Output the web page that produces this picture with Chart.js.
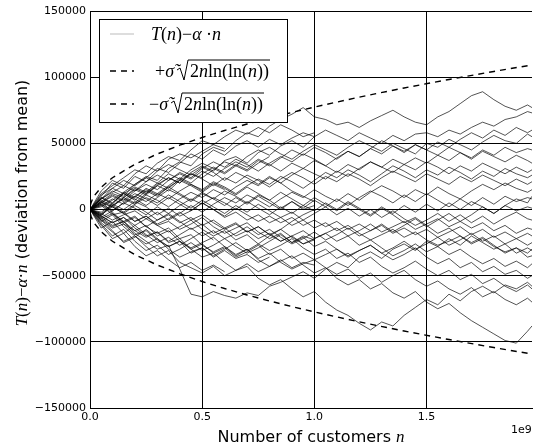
<!DOCTYPE html>
<html>
<head>
<meta charset="utf-8">
<script src="https://cdn.jsdelivr.net/npm/chart.js@4"></script>
<style>
  html, body { margin: 0; padding: 0; background: #fff; }
  #wrap { width: 533px; height: 448px; }
</style>
</head>
<body>
<div id="wrap"><canvas id="chart" width="533" height="448"></canvas></div>
<script>
// n in units of 1e9 (axis offset "1e9")
const xs = [0, 0.05, 0.1, 0.15, 0.2, 0.25, 0.3, 0.35, 0.4, 0.45, 0.5, 0.55, 0.6, 0.65, 0.7, 0.75, 0.8, 0.85, 0.9, 0.95,
  1.0, 1.05, 1.1, 1.15, 1.2, 1.25, 1.3, 1.35, 1.4, 1.45, 1.5, 1.55, 1.6, 1.65, 1.7, 1.75, 1.8, 1.85, 1.9, 1.95, 1.97];

// deviation values in thousands
const walks = [
  [0, 8, 14, 10, 19, 25, 22, 31, 36, 33, 42, 47, 44, 52, 58, 55, 63, 68, 72, 77, 70, 68, 64, 66, 62, 67, 71, 75, 70, 66, 64, 70, 74, 80, 86, 89, 83, 78, 75, 79, 77],
  [0, -4, 3, 9, 5, 12, 18, 14, 22, 27, 24, 30, 36, 33, 40, 45, 41, 48, 52, 47, 55, 60, 56, 52, 58, 54, 50, 56, 52, 57, 58, 55, 60, 57, 62, 66, 63, 68, 70, 74, 73],
  [0, 5, 2, 9, 15, 11, 18, 24, 20, 28, 33, 29, 37, 40, 35, 43, 47, 42, 38, 44, 49, 45, 41, 47, 52, 48, 44, 50, 46, 42, 50, 47, 53, 49, 45, 51, 56, 52, 50, 57, 55],
  [0, -6, -12, -9, -18, -24, -30, -27, -45, -64, -66, -62, -65, -67, -63, -65, -58, -55, -51, -47, -52, -45, -40, -44, -36, -32, -37, -30, -26, -31, -24, -28, -22, -27, -20, -25, -30, -26, -33, -29, -31],
  [0, -5, -10, -6, -14, -20, -17, -25, -22, -30, -36, -33, -40, -46, -43, -52, -57, -53, -60, -66, -62, -70, -76, -80, -86, -91, -85, -88, -80, -74, -68, -72, -64, -69, -62, -58, -63, -57, -60, -55, -58],
  [0, 4, -3, -9, -5, -13, -18, -14, -22, -19, -27, -32, -28, -35, -30, -38, -43, -39, -35, -42, -48, -44, -52, -57, -53, -60, -56, -63, -67, -62, -70, -75, -71, -78, -84, -89, -94, -99, -101, -92, -88],
  [0, -7, -3, -11, -16, -12, -20, -16, -24, -29, -25, -21, -28, -34, -30, -37, -33, -40, -45, -41, -38, -44, -49, -45, -52, -48, -55, -50, -46, -53, -58, -54, -60, -64, -59, -66, -62, -68, -72, -67, -70],
  [0, 3, -4, -2, -9, -5, -12, -17, -13, -8, -15, -20, -16, -23, -19, -26, -31, -27, -22, -29, -34, -30, -37, -33, -40, -36, -43, -48, -44, -39, -45, -50, -46, -53, -49, -56, -52, -58, -62, -57, -60],
  [0, -3, -8, -4, -1, -7, -12, -9, -15, -11, -6, -13, -18, -14, -10, -17, -22, -18, -25, -21, -28, -24, -30, -35, -31, -27, -33, -38, -34, -29, -36, -41, -37, -44, -40, -47, -43, -49, -46, -52, -50],
  [0, 6, 2, -3, 3, -2, -8, -4, -10, -6, -12, -8, -14, -10, -17, -13, -19, -15, -21, -26, -22, -18, -24, -20, -27, -23, -29, -35, -31, -26, -32, -28, -34, -30, -36, -41, -37, -43, -39, -44, -41],
  [0, -2, 4, 0, 6, 2, -4, 1, -5, -1, 5, 0, -6, -2, -8, -4, -10, -6, -12, -8, -14, -10, -16, -12, -18, -23, -19, -15, -21, -17, -23, -27, -24, -20, -26, -22, -28, -32, -29, -33, -30],
  [0, -8, -14, -11, -19, -16, -23, -28, -24, -30, -26, -33, -29, -36, -32, -27, -34, -30, -37, -33, -38, -34, -30, -36, -31, -27, -33, -29, -24, -30, -26, -21, -27, -23, -18, -24, -20, -26, -22, -27, -25],
  [0, 5, 10, 6, 12, 8, 3, 9, 4, -1, 5, 0, -5, 1, -4, -9, -5, -10, -6, -12, -8, -13, -9, -15, -11, -16, -12, -18, -14, -19, -15, -21, -17, -13, -19, -15, -21, -17, -22, -18, -20],
  [0, -4, 2, -3, -9, -5, -11, -7, -2, -8, -4, -10, -15, -11, -17, -13, -19, -24, -20, -16, -22, -18, -14, -20, -16, -11, -17, -13, -9, -15, -11, -7, -13, -9, -14, -10, -16, -12, -18, -14, -15],
  [0, 7, 3, -2, 4, 9, 5, 11, 6, 1, 7, 2, -3, 3, -2, 4, -1, -6, -2, -8, -3, 2, -4, 1, -5, 0, -6, -1, -7, -12, -8, -3, -9, -4, -10, -5, -11, -6, -2, -7, -8],
  [0, -6, -1, 5, 1, -4, 2, -3, 3, 8, 4, 9, 5, 0, 6, 1, -4, 2, -3, 3, -1, 5, 0, 6, 1, -4, 2, -3, 3, -2, 4, -1, 5, 0, 6, 2, -3, 3, -1, 2, 1],
  [0, 3, 8, 4, 10, 15, 11, 17, 12, 7, 13, 8, 3, 9, 4, 10, 5, 0, 6, 1, 7, 2, 8, 3, 9, 14, 10, 5, 11, 6, 12, 7, 2, 8, 3, 9, 4, 10, 6, 9, 8],
  [0, -5, -10, -6, -12, -7, -2, -8, -3, 3, -2, 4, 9, 5, 11, 7, 2, 8, 13, 9, 15, 10, 6, 12, 7, 13, 18, 14, 9, 15, 11, 17, 12, 8, 14, 19, 15, 20, 16, 13, 15],
  [0, 6, 12, 9, 16, 12, 19, 24, 20, 27, 23, 18, 24, 20, 26, 22, 17, 23, 28, 24, 19, 25, 21, 27, 23, 18, 24, 29, 25, 21, 27, 23, 19, 25, 21, 26, 22, 18, 23, 19, 21],
  [0, 4, -1, 5, 10, 6, 12, 8, 14, 19, 15, 21, 17, 12, 18, 23, 19, 25, 21, 16, 22, 28, 24, 30, 26, 21, 27, 33, 29, 24, 30, 26, 32, 28, 23, 29, 25, 31, 27, 24, 26],
  [0, -3, 3, 8, 4, 11, 7, 2, 8, 13, 9, 15, 11, 17, 22, 18, 24, 20, 26, 31, 27, 23, 29, 25, 31, 36, 32, 28, 34, 30, 36, 32, 27, 33, 29, 35, 31, 27, 32, 28, 30],
  [0, 8, 13, 18, 14, 21, 26, 22, 28, 24, 31, 36, 32, 38, 34, 29, 35, 40, 36, 42, 38, 33, 39, 44, 40, 46, 42, 48, 44, 49, 45, 41, 47, 43, 38, 44, 40, 36, 41, 37, 35],
  [0, 5, 11, 7, 14, 19, 15, 22, 27, 23, 29, 25, 31, 36, 32, 38, 34, 29, 35, 31, 37, 33, 28, 34, 30, 36, 32, 38, 34, 39, 35, 41, 37, 43, 39, 45, 41, 47, 43, 46, 45],
  [0, -7, -13, -9, -16, -21, -17, -24, -19, -14, -20, -16, -22, -18, -13, -19, -15, -21, -26, -22, -17, -23, -19, -14, -20, -16, -11, -17, -12, -7, -13, -8, -3, -9, -4, 2, -3, 3, 8, 5, 10],
  [0, 9, 5, 12, 17, 13, 20, 16, 23, 19, 14, 20, 16, 11, 17, 12, 7, 13, 8, 3, 9, 4, -1, 5, 0, -5, 1, -4, -10, -6, -12, -18, -14, -20, -25, -21, -27, -33, -29, -36, -35],
  [0, 2, 7, 13, 9, 16, 12, 18, 24, 20, 27, 32, 28, 34, 30, 37, 33, 39, 45, 41, 47, 43, 38, 44, 40, 46, 52, 48, 43, 49, 45, 51, 47, 53, 58, 54, 60, 56, 62, 58, 60]
];

// walks that stop before the right edge
const shortWalks = [
  [0, 12, 18, 24, 30, 27, 35, 40, 37, 45, 52, 49, 55, 60, 57, 62, 58, 64, 60, 55, 58],
  [0, -10, -17, -24, -20, -28, -35, -31, -40, -44, -48, -43, -50, -46, -41, -47, -43, -38, -44, -40, -42],
  [0, 10, 20, 16, 25, 21, 29, 34, 30, 26, 32, 28, 22, 28, 24, 19, 25, 20, 14, 10, 6],
  [0, -11, -20, -15, -24, -31, -27, -34, -30, -25, -31, -27, -22, -28, -33, -29, -24, -19, -25, -20, -23],
  [0, 8, 16, 22, 18, 24, 31, 28, 35, 42, 38, 45, 41, 48, 52, 47, 53, 49, 54, 58, 55],
  [0, -9, -4, -13, -20, -26, -22, -30, -36, -32, -29, -35, -30, -25, -31, -26, -20, -15, -9, -4, 0],
  [0, -12, -22, -18, -28, -35, -31, -38, -44, -40, -46, -42, -47],
  [0, 14, 22, 18, 27, 33, 29, 38, 42, 39, 44, 49, 46],
  [0, -8, -16, -25, -21, -15, -22, -28, -24, -33, -29, -36, -31, -37, -34, -40, -36],
  [0, 9, 4, 13, 19, 24, 20, 27, 23, 30, 35, 31, 27, 33, 29, 35, 40],
  [0, -14, -9, -18, -12, -19, -25, -21, -27, -22, -17, -23],
  [0, 11, 16, 12, 7, 14, 10, 17, 22, 18, 13, 19, 15],
  [0, 6, -2, -10, -6, -13, -8, -3, -9, -15, -11, -18, -14, -20, -16, -22, -18, -24, -20, -26, -23],
  [0, -5, 5, 12, 8, 3, 9, 15, 11, 6, 12, 8, 14, 10, 5, 11, 7, 1, 6, 0, 3]
];

// envelope +/- sigma*sqrt(2 n ln ln n), read at these n (1e9)
const envN = [0.002, 0.005, 0.01, 0.02, 0.05, 0.1, 0.2, 0.3, 0.4, 0.5, 0.6, 0.7, 0.8, 0.9, 1.0, 1.2, 1.4, 1.6, 1.8, 1.97];
const envUpper = [3300, 5200, 7400, 10560, 16860, 24000, 34150, 41980, 48590, 54430, 59710, 64580, 69110, 73380, 77410, 84920, 91830, 98280, 104330, 109230];
const envLower = [-3300, -5200, -7400, -10560, -16860, -24000, -34150, -41980, -48590, -54430, -59710, -64580, -69110, -73380, -77410, -84920, -91830, -98280, -104330, -109230];

const yTicks = [-150000, -100000, -50000, 0, 50000, 100000, 150000];

const mathFont = '"Liberation Serif"';
const sansFont = '"DejaVu Sans"';

const datasets = [];
datasets.push({ data: envN.map((n, i) => ({ x: n, y: envUpper[i] })), borderColor: "#000", borderWidth: 1.4, borderDash: [6, 5], order: 0 });
datasets.push({ data: envN.map((n, i) => ({ x: n, y: envLower[i] })), borderColor: "#000", borderWidth: 1.4, borderDash: [6, 5], order: 0 });
walks.concat(shortWalks).forEach(w => {
  datasets.push({
    data: w.map((v, i) => ({ x: xs[i], y: v * 1000 })),
    borderColor: "rgba(0,0,0,0.85)",
    borderWidth: 0.8,
    order: 1
  });
});

function runs(ctx, parts, x, y) {
  for (const [t, font] of parts) {
    ctx.font = font;
    ctx.fillText(t, x, y);
    x += ctx.measureText(t).width;
  }
  return x;
}
function width(ctx, parts) {
  let w = 0;
  for (const [t, font] of parts) { ctx.font = font; w += ctx.measureText(t).width; }
  return w;
}

const decor = {
  id: "decor",
  afterDraw(chart) {
    const ctx = chart.ctx;
    ctx.save();
    ctx.fillStyle = "#000";
    ctx.textBaseline = "alphabetic";
    ctx.textAlign = "left";

    // x axis title
    const it16 = `italic 17px ${mathFont}`, sans16 = `16px ${sansFont}`, up16 = `17px ${mathFont}`;
    const xt = [["Number of customers ", sans16], ["n", it16]];
    runs(ctx, xt, 311 - width(ctx, xt) / 2, 442);

    // offset text
    ctx.font = `11px ${sansFont}`;
    ctx.fillText("1e9", 511, 433);

    // y axis title
    const yt = [["T", it16], ["(", up16], ["n", it16], [")\u2212", up16], ["\u03b1", it16], ["\u00b7", up16], ["n", it16], [" (deviation from mean)", sans16]];
    ctx.save();
    ctx.translate(27, 203);
    ctx.rotate(-Math.PI / 2);
    runs(ctx, yt, -width(ctx, yt) / 2, 0);
    ctx.restore();

    // legend
    const L = 99, T = 19, R = 287, B = 122;
    ctx.fillStyle = "#fff";
    ctx.fillRect(L, T, R - L, B - T);
    ctx.strokeStyle = "#000";
    ctx.lineWidth = 1;
    ctx.strokeRect(L + 0.5, T + 0.5, R - L, B - T);
    ctx.fillStyle = "#000";

    const rowsY = [34, 71, 104];
    ctx.strokeStyle = "#aaa";
    ctx.lineWidth = 0.8;
    ctx.beginPath(); ctx.moveTo(110, rowsY[0]); ctx.lineTo(134, rowsY[0]); ctx.stroke();
    ctx.strokeStyle = "#000";
    ctx.lineWidth = 1.4;
    ctx.setLineDash([6, 5]);
    [rowsY[1], rowsY[2]].forEach(y => { ctx.beginPath(); ctx.moveTo(110, y); ctx.lineTo(134, y); ctx.stroke(); });
    ctx.setLineDash([]);

    const it = `italic 18px ${mathFont}`, up = `18px ${mathFont}`;
    runs(ctx, [["T", it], ["(", up], ["n", it], [")\u2212", up], ["\u03b1", it], [" \u00b7", up], ["n", it]], 151, rowsY[0] + 6);

    function envText(sign, x0, y) {
      let x = runs(ctx, [[sign, up], ["\u03c3\u0303", it]], x0, y);
      const rx = x + 3;
      ctx.lineWidth = 1;
      ctx.strokeStyle = "#000";
      const start = rx + 13;
      const body = [["2", up], ["n", it], ["ln(ln(", up], ["n", it], ["))", up]];
      const end = start + width(ctx, body);
      ctx.beginPath();
      ctx.moveTo(rx, y - 7);
      ctx.lineTo(rx + 3, y - 9);
      ctx.lineTo(rx + 7, y + 3);
      ctx.lineTo(rx + 11, y - 17);
      ctx.lineTo(end + 1, y - 17);
      ctx.stroke();
      runs(ctx, body, start, y);
    }
    envText("+", 155, rowsY[1] + 6);
    envText("\u2212", 149, rowsY[2] + 6);
    ctx.restore();
  }
};

new Chart(document.getElementById("chart"), {
  type: "line",
  data: { datasets },
  options: {
    responsive: false,
    animation: false,
    parsing: true,
    normalized: true,
    layout: { padding: { top: 11, right: 1, left: 0, bottom: 0 } },
    elements: { point: { radius: 0 }, line: { tension: 0, fill: false } },
    plugins: { legend: { display: false }, tooltip: { enabled: false } },
    scales: {
      x: {
        type: "linear",
        min: 0,
        max: 1.97,
        afterBuildTicks: axis => { axis.ticks = [0, 0.5, 1.0, 1.5].map(v => ({ value: v })); },
        afterFit: axis => { axis.height = 40; },
        grid: { color: "#000", lineWidth: 1, drawTicks: false },
        border: { color: "#000", width: 1 },
        ticks: { color: "#000", padding: 3, font: { family: "DejaVu Sans", size: 11 }, maxRotation: 0, callback: v => v.toFixed(1) }
      },
      y: {
        min: -150000,
        max: 150000,
        afterBuildTicks: axis => { axis.ticks = yTicks.map(v => ({ value: v })); },
        afterFit: axis => { axis.width = 90; },
        grid: { color: "#000", lineWidth: 1, drawTicks: false },
        border: { color: "#000", width: 1 },
        ticks: { color: "#000", padding: 4, font: { family: "DejaVu Sans", size: 11 }, callback: v => v < 0 ? "\u2212" + Math.abs(v) : String(v) }
      }
    }
  },
  plugins: [decor]
});
</script>
</body>
</html>
